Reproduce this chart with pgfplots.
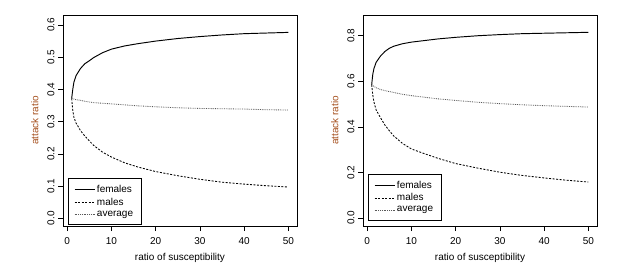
\documentclass[border=0pt]{standalone}
\usepackage{fontspec}
\setmainfont{Liberation Sans}
\usepackage{pgfplots}
\pgfplotsset{compat=1.18}
\definecolor{labbrown}{RGB}{165,80,30}
\pgfplotsset{
  rstyle/.style={
    scale only axis,
    width=234pt, height=211pt,
    xmin=-0.96, xmax=51.96,
    xtick={0,10,20,30,40,50},
    tick align=outside,
    major tick length=5pt,
    xtick pos=bottom, ytick pos=left,
    tick style={black, line width=0.6pt},
    axis line style={line width=0.7pt},
    /pgf/number format/assume math mode=true,
    ticklabel style={font=\fontsize{10}{12}\selectfont},
    xticklabel style={yshift=-3pt},
    yticklabel style={rotate=90, anchor=south, /pgf/number format/fixed, /pgf/number format/precision=1, /pgf/number format/fixed zerofill},
    label style={font=\fontsize{10}{12}\selectfont},
    xlabel={ratio of susceptibility},
    ylabel={\textcolor{labbrown}{attack ratio}},
    xlabel style={at={(axis description cs:0.5,-0.152)}, anchor=center},
    ylabel style={at={(axis description cs:-0.12,0.5)}, anchor=center},
    legend cell align=left,
    legend image code/.code={\draw[#1] (0pt,0pt) -- (20pt,0pt);},
    legend style={anchor=south west, draw=black, line width=0.7pt, font=\fontsize{10}{11.5}\selectfont, inner xsep=6pt, inner ysep=5pt, row sep=0pt},
  },
  fem/.style={black, line width=0.95pt},
  mal/.style={black, line width=0.85pt, dash pattern=on 2pt off 1.5pt},
  avg/.style={black!65, line width=0.85pt, dash pattern=on 0.8pt off 1pt},
}
\begin{document}
\begin{tikzpicture}[x=1pt,y=1pt]
\path[use as bounding box] (0,0) rectangle (621,273);
\begin{axis}[rstyle, at={(63pt,47pt)}, anchor=south west,
  ymin=-0.024, ymax=0.631, ytick={0,0.1,0.2,0.3,0.4,0.5,0.6},
  legend style={at={(0.02,0.005)}}]
\addplot[fem] coordinates {(1,0.372) (1.25,0.400) (1.5,0.422) (2,0.443) (2.5,0.454) (3,0.465) (4,0.480) (5,0.489) (6,0.499) (8,0.514) (10,0.525) (13,0.535) (16,0.542) (20,0.550) (25,0.558) (30,0.564) (35,0.569) (40,0.573) (45,0.575) (50,0.577)};
\addlegendentry{females}
\addplot[mal] coordinates {(1,0.372) (1.25,0.335) (1.5,0.314) (2,0.295) (2.5,0.284) (3,0.272) (4,0.255) (5,0.240) (6,0.226) (8,0.205) (10,0.190) (13,0.172) (16,0.159) (20,0.145) (25,0.132) (30,0.121) (35,0.112) (40,0.106) (45,0.101) (50,0.097)};
\addlegendentry{males}
\addplot[avg] coordinates {(1,0.372) (1.5,0.370) (2,0.368) (3,0.366) (4,0.363) (5,0.361) (6,0.359) (8,0.357) (10,0.355) (13,0.352) (16,0.349) (20,0.346) (25,0.343) (30,0.341) (35,0.340) (40,0.339) (45,0.337) (50,0.336)};
\addlegendentry{average}
\end{axis}
\begin{axis}[rstyle, at={(363pt,47pt)}, anchor=south west,
  ymin=-0.035, ymax=0.891, ytick={0,0.2,0.4,0.6,0.8},
  legend style={at={(0.02,0.025)}}]
\addplot[fem] coordinates {(1,0.585) (1.25,0.630) (1.5,0.655) (2,0.683) (3,0.711) (4,0.731) (5,0.745) (6,0.754) (8,0.765) (10,0.772) (13,0.779) (16,0.786) (20,0.793) (25,0.800) (30,0.805) (35,0.809) (40,0.811) (45,0.813) (50,0.815)};
\addlegendentry{females}
\addplot[mal] coordinates {(1,0.585) (1.25,0.540) (1.5,0.510) (2,0.475) (3,0.440) (4,0.408) (5,0.383) (6,0.360) (8,0.327) (10,0.303) (13,0.282) (16,0.262) (20,0.239) (25,0.219) (30,0.201) (35,0.187) (40,0.176) (45,0.166) (50,0.158)};
\addlegendentry{males}
\addplot[avg] coordinates {(1,0.585) (1.5,0.578) (2,0.572) (3,0.564) (4,0.559) (5,0.555) (6,0.551) (8,0.543) (10,0.537) (13,0.530) (16,0.523) (20,0.516) (25,0.508) (30,0.502) (35,0.497) (40,0.493) (45,0.490) (50,0.487)};
\addlegendentry{average}
\end{axis}
\end{tikzpicture}
\end{document}
